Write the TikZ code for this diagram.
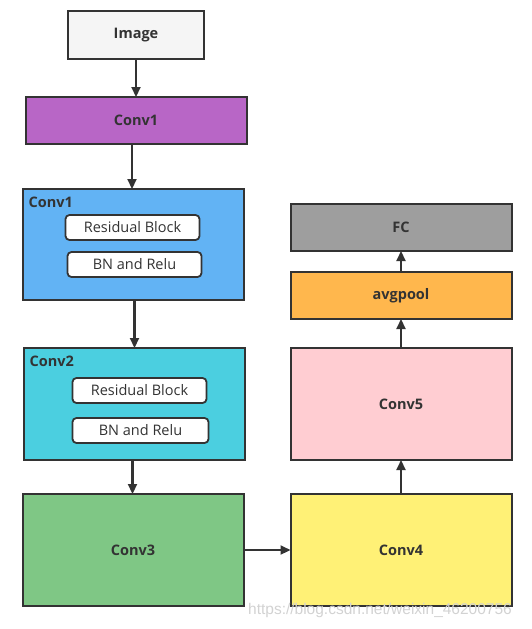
\documentclass[tikz,border=0pt]{standalone}
\usepackage{fontspec}
\setmainfont{Open Sans}
\usepackage{tikz}
\usetikzlibrary{arrows.meta, positioning}
\definecolor{edgegray}{HTML}{333333}
\definecolor{imgfill}{HTML}{F5F5F5}
\definecolor{purplefill}{HTML}{B866C6}
\definecolor{bluefill}{HTML}{62B3F4}
\definecolor{cyanfill}{HTML}{4BCFE0}
\definecolor{greenfill}{HTML}{7FC785}
\definecolor{yellowfill}{HTML}{FFF176}
\definecolor{pinkfill}{HTML}{FFCDD2}
\definecolor{orangefill}{HTML}{FFB74D}
\definecolor{grayfill}{HTML}{9E9E9E}

\begin{document}
\begin{tikzpicture}[
  x=1pt, y=1pt,
  box/.style={rectangle, draw=edgegray, line width=2pt, text=edgegray, outer sep=0pt,
              minimum width=221pt, minimum height=47pt, inner sep=0pt,
              font=\fontsize{14.5}{16}\selectfont\bfseries},
  bigbox/.style={box, minimum height=112pt},
  inbox/.style={rectangle, rounded corners=4pt, draw=edgegray, line width=1.8pt, fill=white,
                text=edgegray, minimum width=134pt, minimum height=25pt, inner sep=0pt,
                outer sep=0pt, font=\fontsize{14.5}{16}\selectfont},
  tag/.style={text=edgegray, inner sep=1pt, font=\fontsize{14.5}{16}\selectfont\bfseries},
  arrow/.style={-{Triangle[length=10pt, width=9pt]}, line width=2.2pt, color=edgegray}
]
\useasboundingbox (0,0) rectangle (532,-629);

% --- Left column ---
\node[box, fill=imgfill, minimum width=136pt, minimum height=48pt] (image) at (136,-35) {Image};
\node[box, fill=purplefill, below=38pt of image] (conv1) {Conv1};
\node[bigbox, fill=bluefill, minimum height=111pt, below=45pt of conv1, xshift=-3pt] (layer1) {};
\node[bigbox, fill=cyanfill, below=48pt of layer1, xshift=1pt] (layer2) {};
\node[bigbox, fill=greenfill, below=34pt of layer2, xshift=-1pt] (conv3) {Conv3};

% --- Inner blocks ---
\node[tag, below right=7pt and 5pt of layer1.north west] (tag1) {Conv1};
\node[inbox, below=26pt of layer1.north, xshift=-0.5pt] (res1) {Residual Block};
\node[inbox, below=12pt of res1, xshift=2pt] (bn1) {BN and Relu};

\node[tag, below right=7pt and 5pt of layer2.north west] (tag2) {Conv2};
\node[inbox, below=30pt of layer2.north, xshift=5.5pt] (res2) {Residual Block};
\node[inbox, below=15pt of res2, xshift=1pt, minimum width=136pt] (bn2) {BN and Relu};

% --- Right column ---
\node[bigbox, fill=yellowfill, right=47pt of conv3] (conv4) {Conv4};
\node[bigbox, fill=pinkfill, above=34pt of conv4] (conv5) {Conv5};
\node[box, fill=orangefill, above=29pt of conv5] (pool) {avgpool};
\node[box, fill=grayfill, above=21pt of pool] (fc) {FC};

% --- Arrows ---
\draw[arrow] (image) -- (image |- conv1.north);
\draw[arrow] ([xshift=-4pt]conv1.south) -- ([xshift=-4pt]conv1.south |- layer1.north);
\draw[arrow] ([xshift=1.5pt]layer1.south) -- ([xshift=1.5pt]layer1.south |- layer2.north);
\draw[arrow] ([xshift=-1.5pt]layer2.south) -- ([xshift=-1.5pt]layer2.south |- conv3.north);
\draw[arrow] (conv3) -- (conv4);
\draw[arrow] (conv4) -- (conv5);
\draw[arrow] (conv5) -- (pool);
\draw[arrow] (pool) -- (fc);

% --- Watermark ---
\node[text=gray!35, inner sep=0pt, font=\fontsize{15.5}{17}\selectfont\fontspec{Liberation Sans}]
  (mark) at (380,-610) {https://blog.csdn.net/weixin\_46200756};

\end{tikzpicture}
\end{document}
